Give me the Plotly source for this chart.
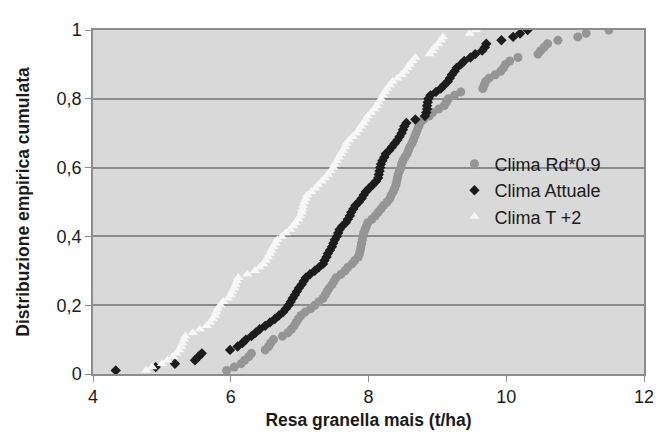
import plotly.graph_objects as go

# Sorted yields (t/ha) for each scenario; empirical CDF value = rank / N
rd09 = [5.94, 6.05, 6.15, 6.20, 6.26, 6.30, 6.50, 6.55, 6.58, 6.62,
        6.75, 6.83, 6.88, 6.92, 6.95, 6.98, 7.02, 7.08, 7.16, 7.22,
        7.28, 7.34, 7.37, 7.40, 7.43, 7.47, 7.50, 7.53, 7.60, 7.66,
        7.70, 7.76, 7.80, 7.85, 7.87, 7.88, 7.89, 7.90, 7.91, 7.92,
        7.93, 7.95, 7.97, 7.99, 8.05, 8.10, 8.14, 8.18, 8.22, 8.27,
        8.31, 8.33, 8.36, 8.38, 8.40, 8.41, 8.42, 8.43, 8.45, 8.47,
        8.48, 8.50, 8.53, 8.56, 8.58, 8.60, 8.63, 8.65, 8.67, 8.69,
        8.71, 8.73, 8.75, 8.80, 8.88, 8.93, 9.02, 9.10, 9.13, 9.16,
        9.25, 9.34, 9.66, 9.68, 9.70, 9.75, 9.84, 9.92, 9.96, 9.99,
        10.05, 10.17, 10.46, 10.50, 10.55, 10.60, 10.75, 11.04, 11.16, 11.49]

attuale = [4.33, 4.91, 5.19, 5.48, 5.53, 5.58, 5.99, 6.10, 6.17, 6.22,
           6.30, 6.36, 6.42, 6.50, 6.57, 6.64, 6.70, 6.76, 6.80, 6.84,
           6.87, 6.90, 6.93, 6.96, 6.99, 7.03, 7.06, 7.09, 7.15, 7.22,
           7.28, 7.34, 7.36, 7.39, 7.41, 7.44, 7.47, 7.49, 7.51, 7.54,
           7.56, 7.58, 7.62, 7.67, 7.70, 7.73, 7.75, 7.78, 7.81, 7.86,
           7.90, 7.93, 7.96, 8.01, 8.06, 8.11, 8.14, 8.15, 8.16, 8.17,
           8.18, 8.20, 8.23, 8.25, 8.30, 8.34, 8.38, 8.42, 8.45, 8.48,
           8.50, 8.52, 8.55, 8.68, 8.82, 8.84, 8.85, 8.85, 8.86, 8.87,
           8.90, 8.98, 9.05, 9.10, 9.15, 9.18, 9.21, 9.25, 9.28, 9.34,
           9.39, 9.48, 9.55, 9.65, 9.69, 9.71, 9.93, 10.10, 10.20, 10.31]

t_plus2 = [4.77, 4.86, 5.00, 5.08, 5.16, 5.21, 5.25, 5.28, 5.30, 5.32,
           5.34, 5.45, 5.55, 5.65, 5.70, 5.74, 5.77, 5.79, 5.81, 5.85,
           5.89, 5.96, 6.00, 6.02, 6.05, 6.07, 6.09, 6.11, 6.24, 6.35,
           6.42, 6.47, 6.51, 6.54, 6.57, 6.59, 6.62, 6.65, 6.68, 6.74,
           6.80, 6.86, 6.91, 6.94, 6.98, 7.01, 7.03, 7.04, 7.05, 7.07,
           7.09, 7.11, 7.17, 7.23, 7.27, 7.32, 7.37, 7.41, 7.45, 7.49,
           7.51, 7.54, 7.57, 7.60, 7.63, 7.66, 7.68, 7.72, 7.77, 7.82,
           7.86, 7.89, 7.93, 7.96, 7.99, 8.04, 8.09, 8.12, 8.15, 8.18,
           8.21, 8.24, 8.27, 8.31, 8.35, 8.42, 8.48, 8.53, 8.57, 8.60,
           8.64, 8.68, 8.89, 8.93, 8.96, 9.01, 9.05, 9.08, 9.47, 9.56]

series_names = ["Clima Rd*0.9", "Clima Attuale", "Clima T +2"]
y_ticks = [0, 0.2, 0.4, 0.6, 0.8, 1]
y_tick_labels = ["0", "0,2", "0,4", "0,6", "0,8", "1"]
x_ticks = [4, 6, 8, 10, 12]


def ecdf(values):
    n = len(values)
    return [(i + 1) / n for i in range(n)]


fig = go.Figure()
styles = [
    dict(symbol="circle", color="#959595", size=9),
    dict(symbol="diamond", color="#1c1c1c", size=8),
    dict(symbol="triangle-up", color="#f7f7f7", size=9),
]
for name, vals, st in zip(series_names, [rd09, attuale, t_plus2], styles):
    fig.add_trace(go.Scatter(
        x=vals, y=ecdf(vals), mode="markers", name=name,
        marker=dict(symbol=st["symbol"], color=st["color"], size=st["size"],
                    line=dict(width=0)),
    ))

font_family = "Liberation Sans, Arial, sans-serif"
fig.update_layout(
    width=661, height=441,
    margin=dict(l=85, r=25, t=15, b=75),
    paper_bgcolor="white",
    plot_bgcolor="#d9d9d9",
    font=dict(family=font_family, size=18, color="#1a1a1a"),
    showlegend=True,
    legend=dict(x=0.656, y=0.664, xanchor="left", yanchor="top",
                bgcolor="rgba(0,0,0,0)", font=dict(size=18),
                itemsizing="trace", tracegroupgap=0),
    xaxis=dict(range=[4, 12], tickvals=x_ticks, showgrid=False, zeroline=False,
               showline=True, linecolor="#8c8c8c", linewidth=1.5, mirror=True,
               ticks="outside", ticklen=6, tickcolor="#8c8c8c",
               tickfont=dict(size=18),
               title=dict(text="<b>Resa granella mais (t/ha)</b>",
                          font=dict(size=17.5), standoff=7)),
    yaxis=dict(range=[0, 1], tickvals=y_ticks, ticktext=y_tick_labels,
               showgrid=True, gridcolor="#8c8c8c", gridwidth=1.5,
               zeroline=False, showline=True, linecolor="#8c8c8c",
               linewidth=1.5, mirror=True,
               ticks="outside", ticklen=6, tickcolor="#8c8c8c",
               tickfont=dict(size=18),
               title=dict(text="<b>Distribuzione empirica cumulata</b>",
                          font=dict(size=17.5), standoff=22)),
)

fig.write_html("out.html")
